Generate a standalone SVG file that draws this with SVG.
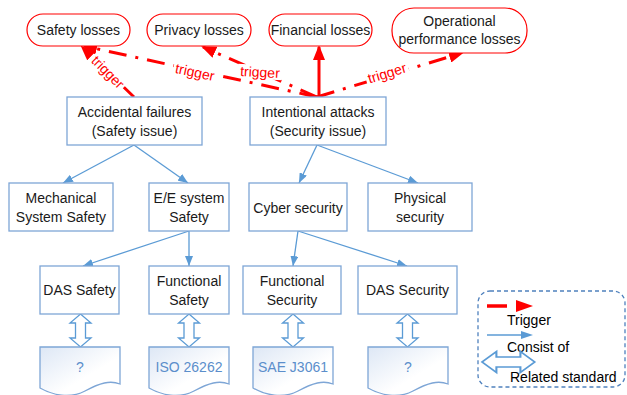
<svg xmlns="http://www.w3.org/2000/svg" xmlns:xlink="http://www.w3.org/1999/xlink" width="627" height="395" viewBox="0 0 627 395">
<style>
  .loss{fill:#fff;stroke:#ff0000;stroke-width:1.2}
  .box{fill:#fff;stroke:#7ea6d6;stroke-width:1.3}
  .doc{fill:url(#docg);stroke:#7ea6d6;stroke-width:1.3}
  .dbl{fill:#fff;stroke:#5b9bd5;stroke-width:1.3}
  .t{font-family:"Liberation Sans",Arial,sans-serif;font-size:14px;fill:#1a1a1a;text-anchor:middle}
  .dt{font-family:"Liberation Sans",Arial,sans-serif;font-size:14px;fill:#5b8ecb;text-anchor:middle}
  .lt{font-family:"Liberation Sans",Arial,sans-serif;font-size:14px;fill:#000}
  .rl{font-family:"Liberation Sans",Arial,sans-serif;font-size:14px;fill:#ff0000;text-anchor:middle}
  .blue{stroke:#5b9bd5;stroke-width:1.3;fill:none;marker-end:url(#ab)}
  .red{stroke:#ff0000;stroke-width:3;fill:none;marker-end:url(#ar)}
  .dd{stroke-dasharray:18 9 3 9}
</style>
<defs>
  <marker id="ab" viewBox="0 0 10 8" refX="10" refY="4" markerWidth="10" markerHeight="8" markerUnits="userSpaceOnUse" orient="auto">
    <path d="M0,0 L10,4 L0,8 Z" fill="#5b9bd5"/>
  </marker>
  <marker id="ar" viewBox="0 0 15 12" refX="13" refY="6" markerWidth="15" markerHeight="12" markerUnits="userSpaceOnUse" orient="auto">
    <path d="M0,0 L15,6 L0,12 Z" fill="#ff0000"/>
  </marker>
  <linearGradient id="docg" x1="0" y1="0" x2="1" y2="1">
    <stop offset="0" stop-color="#dde7f5"/>
    <stop offset="0.6" stop-color="#ffffff"/>
  </linearGradient>
  <path id="docshape" d="M0,0 H80 V37 C70,33 60,36 45,44 C30,52 12,48 0,41 Z"/>
  <path id="dblv" d="M0,0 L10.5,9 L5,9 L5,24 L10.5,24 L0,33 L-10.5,24 L-5,24 L-5,9 L-10.5,9 Z"/>
</defs>

<rect width="627" height="395" fill="#fff"/>

<g id="connectors">
  <!-- consist of -->
  <line class="blue" x1="134" y1="145" x2="63" y2="183"/>
  <line class="blue" x1="134" y1="145" x2="188" y2="183"/>
  <line class="blue" x1="317" y1="145" x2="299" y2="183"/>
  <line class="blue" x1="317" y1="145" x2="418" y2="183"/>
  <line class="blue" x1="189" y1="231" x2="83" y2="266"/>
  <line class="blue" x1="189" y1="231" x2="189" y2="266"/>
  <line class="blue" x1="298" y1="231" x2="293" y2="266"/>
  <line class="blue" x1="298" y1="231" x2="407" y2="266"/>
  <!-- triggers -->
  <line class="red dd" x1="134" y1="97" x2="82" y2="47"/>
  <line class="red dd" x1="317" y1="97" x2="84" y2="46"/>
  <line class="red dd" x1="317" y1="97" x2="203" y2="47"/>
  <line class="red" x1="319" y1="97" x2="319" y2="47"/>
  <line class="red dd" x1="317" y1="97" x2="462" y2="53"/>
  <!-- trigger labels -->
  <g transform="translate(108,72) rotate(45)">
    <rect x="-22" y="-7" width="44" height="14" fill="#fff"/>
    <text class="rl" x="0" y="5">trigger</text>
  </g>
  <g transform="translate(195,72) rotate(12)">
    <rect x="-22" y="-7" width="44" height="14" fill="#fff"/>
    <text class="rl" x="0" y="5">trigger</text>
  </g>
  <g transform="translate(260,72) rotate(3)">
    <rect x="-22" y="-7" width="44" height="14" fill="#fff"/>
    <text class="rl" x="0" y="5">trigger</text>
  </g>
  <g transform="translate(387,73) rotate(-17)">
    <rect x="-22" y="-7" width="44" height="14" fill="#fff"/>
    <text class="rl" x="0" y="5">trigger</text>
  </g>
  <!-- related standard -->
  <use xlink:href="#dblv" class="dbl" x="80.5" y="314"/>
  <use xlink:href="#dblv" class="dbl" x="189" y="314"/>
  <use xlink:href="#dblv" class="dbl" x="293" y="314"/>
  <use xlink:href="#dblv" class="dbl" x="407.5" y="314"/>
</g>

<g id="safety-losses">
  <rect class="loss" x="27" y="14" width="103" height="32" rx="16"/>
  <text class="t" x="78.5" y="35">Safety losses</text>
</g>
<g id="privacy-losses">
  <rect class="loss" x="147" y="14" width="104" height="32" rx="16"/>
  <text class="t" x="199" y="35">Privacy losses</text>
</g>
<g id="financial-losses">
  <rect class="loss" x="269" y="14" width="103" height="32" rx="16"/>
  <text class="t" x="320.5" y="35">Financial losses</text>
</g>
<g id="operational-losses">
  <rect class="loss" x="392" y="8" width="135" height="45" rx="22"/>
  <text class="t" x="459.5" y="26">Operational</text>
  <text class="t" x="459.5" y="44">performance losses</text>
</g>

<g id="accidental-failures">
  <rect class="box" x="67" y="97" width="135" height="48"/>
  <text class="t" x="134.5" y="117">Accidental failures</text>
  <text class="t" x="134.5" y="136">(Safety issue)</text>
</g>
<g id="intentional-attacks">
  <rect class="box" x="250" y="97" width="136" height="48"/>
  <text class="t" x="318" y="117">Intentional attacks</text>
  <text class="t" x="318" y="136">(Security issue)</text>
</g>

<g id="mechanical-safety">
  <rect class="box" x="9" y="183" width="104" height="48"/>
  <text class="t" x="61" y="203">Mechanical</text>
  <text class="t" x="61" y="222">System Safety</text>
</g>
<g id="ee-safety">
  <rect class="box" x="149" y="183" width="80" height="48"/>
  <text class="t" x="189" y="203">E/E system</text>
  <text class="t" x="189" y="222">Safety</text>
</g>
<g id="cyber-security">
  <rect class="box" x="249" y="183" width="98" height="48"/>
  <text class="t" x="298" y="213">Cyber security</text>
</g>
<g id="physical-security">
  <rect class="box" x="368" y="183" width="104" height="48"/>
  <text class="t" x="420" y="203">Physical</text>
  <text class="t" x="420" y="222">security</text>
</g>

<g id="das-safety">
  <rect class="box" x="40" y="266" width="79" height="48"/>
  <text class="t" x="79.5" y="295">DAS Safety</text>
</g>
<g id="functional-safety">
  <rect class="box" x="149" y="266" width="80" height="48"/>
  <text class="t" x="189" y="286">Functional</text>
  <text class="t" x="189" y="305">Safety</text>
</g>
<g id="functional-security">
  <rect class="box" x="243" y="266" width="98" height="48"/>
  <text class="t" x="292" y="286">Functional</text>
  <text class="t" x="292" y="305">Security</text>
</g>
<g id="das-security">
  <rect class="box" x="358" y="266" width="99" height="48"/>
  <text class="t" x="407.5" y="295">DAS Security</text>
</g>

<g id="std-das-safety">
  <use xlink:href="#docshape" class="doc" x="40" y="347"/>
  <text class="dt" x="80" y="372">?</text>
</g>
<g id="std-iso26262">
  <use xlink:href="#docshape" class="doc" x="149" y="347"/>
  <text class="dt" x="189" y="372">ISO 26262</text>
</g>
<g id="std-saej3061">
  <use xlink:href="#docshape" class="doc" x="253" y="347"/>
  <text class="dt" x="293" y="372">SAE J3061</text>
</g>
<g id="std-das-security">
  <use xlink:href="#docshape" class="doc" x="368" y="347"/>
  <text class="dt" x="408" y="372">?</text>
</g>

<g id="legend">
  <rect x="478" y="291" width="147" height="96" rx="12" fill="#fff" stroke="#4f81bd" stroke-width="1.3" stroke-dasharray="4 3"/>
  <line x1="487" y1="306" x2="507" y2="306" stroke="#ff0000" stroke-width="3.5"/>
  <path d="M516,300 L533,306 L516,312 Z" fill="#ff0000"/>
  <text class="lt" x="507" y="325">Trigger</text>
  <line x1="487" y1="335" x2="523" y2="335" stroke="#5b9bd5" stroke-width="1.5"/>
  <path d="M521,331 L533,335 L521,339 Z" fill="#5b9bd5"/>
  <text class="lt" x="507" y="352">Consist of</text>
  <use xlink:href="#dblv" class="dbl" transform="translate(482,362) rotate(-90) scale(1,1.6)"/>
  <text class="lt" x="510" y="382">Related standard</text>
</g>
</svg>
